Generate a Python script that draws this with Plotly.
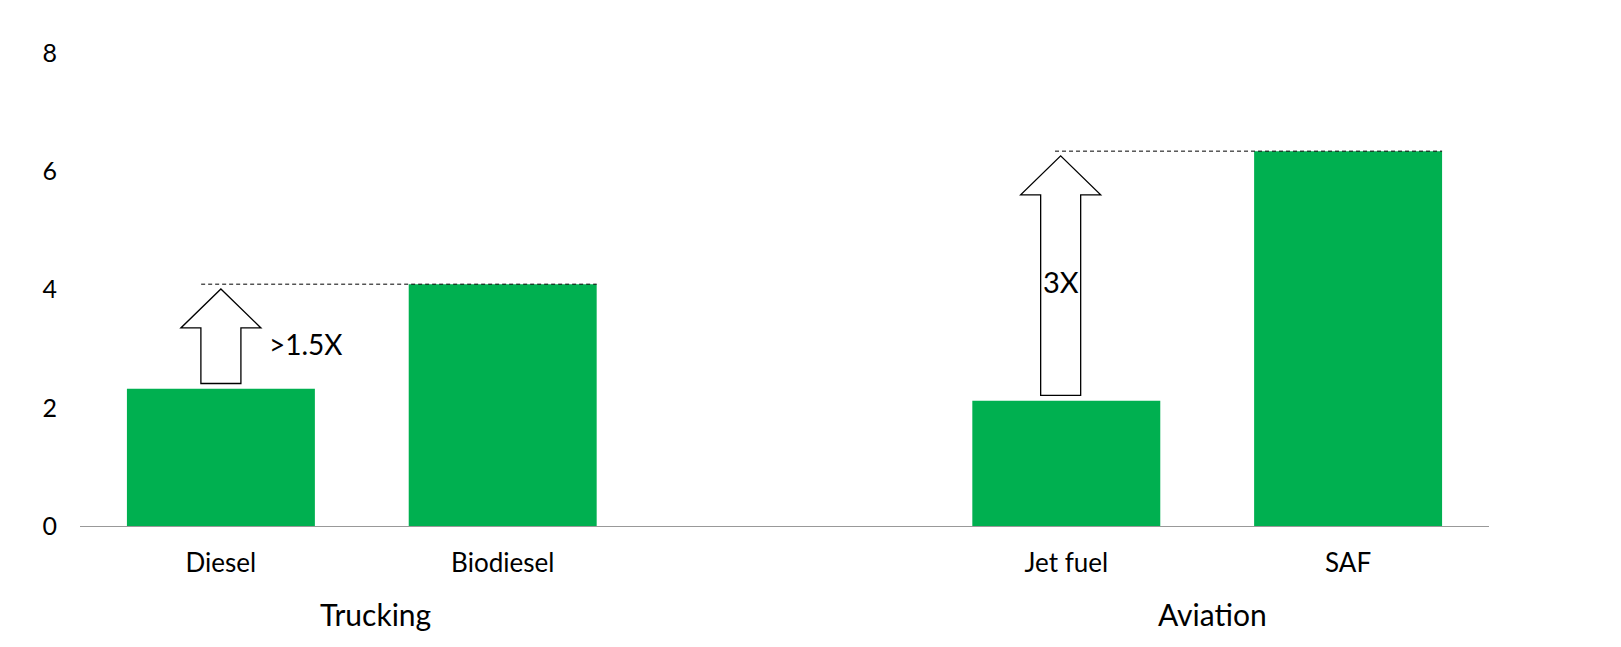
import plotly.graph_objects as go

# ---- data ----
categories = ["Diesel", "Biodiesel", "", "Jet fuel", "SAF"]
values = [2.32, 4.09, None, 2.12, 6.34]
groups = ["Trucking", "Aviation"]
group_pos = [0.55, 3.52]
y_ticks = [0, 2, 4, 6, 8]
# comparisons: (from index, to index, label)
comparisons = [(0, 1, ">1.5X"), (3, 4, "3X")]

GREEN = "#00B050"
FONT = "Lato"
positions = list(range(len(categories)))

fig = go.Figure()
fig.add_trace(go.Bar(
    x=positions, y=values, marker=dict(color=GREEN, line=dict(width=0)),
    width=0.667, hoverinfo="skip", showlegend=False,
))

shapes = []
annotations = []
head_len = 0.66      # in y units
head_hw = 0.142      # half width of arrow head in x units
shaft_hw = 0.071     # half width of shaft in x units
gap_lo, gap_hi = 0.09, 0.08
for k, (i, j, lab) in enumerate(comparisons):
    xc = positions[i] - (0.0 if k == 0 else 0.02)
    y0 = values[i] + gap_lo
    y1 = values[j] - gap_hi
    yb = y1 - head_len
    path = (f"M {xc-shaft_hw},{y0} L {xc+shaft_hw},{y0} L {xc+shaft_hw},{yb} "
            f"L {xc+head_hw},{yb} L {xc},{y1} L {xc-head_hw},{yb} "
            f"L {xc-shaft_hw},{yb} Z")
    shapes.append(dict(type="path", path=path, xref="x", yref="y",
                       line=dict(color="black", width=1.3), fillcolor="white",
                       layer="above"))
    x_start = xc - (0.07 if k == 0 else 0.02)
    shapes.append(dict(type="line", xref="x", yref="y",
                       x0=x_start, x1=positions[j] + 0.3335,
                       y0=values[j], y1=values[j],
                       line=dict(color="black", width=1, dash="4px,3px"),
                       layer="above"))
    if k == 0:
        annotations.append(dict(x=xc + head_hw + 0.02, y=(y0 + y1) / 2 - 0.13,
                                xref="x", yref="y", text=lab, showarrow=False,
                                xanchor="left", yanchor="middle",
                                font=dict(family=FONT, size=28, color="black")))
    else:
        annotations.append(dict(x=xc, y=(y0 + y1) / 2 - 0.1,
                                xref="x", yref="y", text=lab, showarrow=False,
                                xanchor="center", yanchor="middle",
                                font=dict(family=FONT, size=29, color="black")))

for g, gx in zip(groups, group_pos):
    annotations.append(dict(x=gx, y=-0.185, xref="x", yref="paper", text=g,
                            showarrow=False, xanchor="center", yanchor="middle",
                            font=dict(family=FONT, size=30, color="black")))

fig.update_layout(
    width=1621, height=647,
    margin=dict(l=72, r=140, t=45, b=129),
    paper_bgcolor="white", plot_bgcolor="white",
    font=dict(family=FONT, color="black"),
    bargap=0.333,
    shapes=shapes, annotations=annotations,
    xaxis=dict(range=[-0.5, 4.5], tickmode="array", tickvals=positions,
               ticktext=categories, showgrid=False, zeroline=False,
               showline=True, linecolor="rgba(0,0,0,0.4)", linewidth=1.3,
               ticks="", tickfont=dict(family=FONT, size=26, color="black"),
               ticklabelstandoff=14, fixedrange=True),
    yaxis=dict(range=[0, 8], tickmode="array", tickvals=y_ticks,
               showgrid=False, zeroline=False, showline=False, ticks="",
               tickfont=dict(family=FONT, size=25, color="black"),
               ticklabelstandoff=22, fixedrange=True),
)

fig.write_html("out.html")
